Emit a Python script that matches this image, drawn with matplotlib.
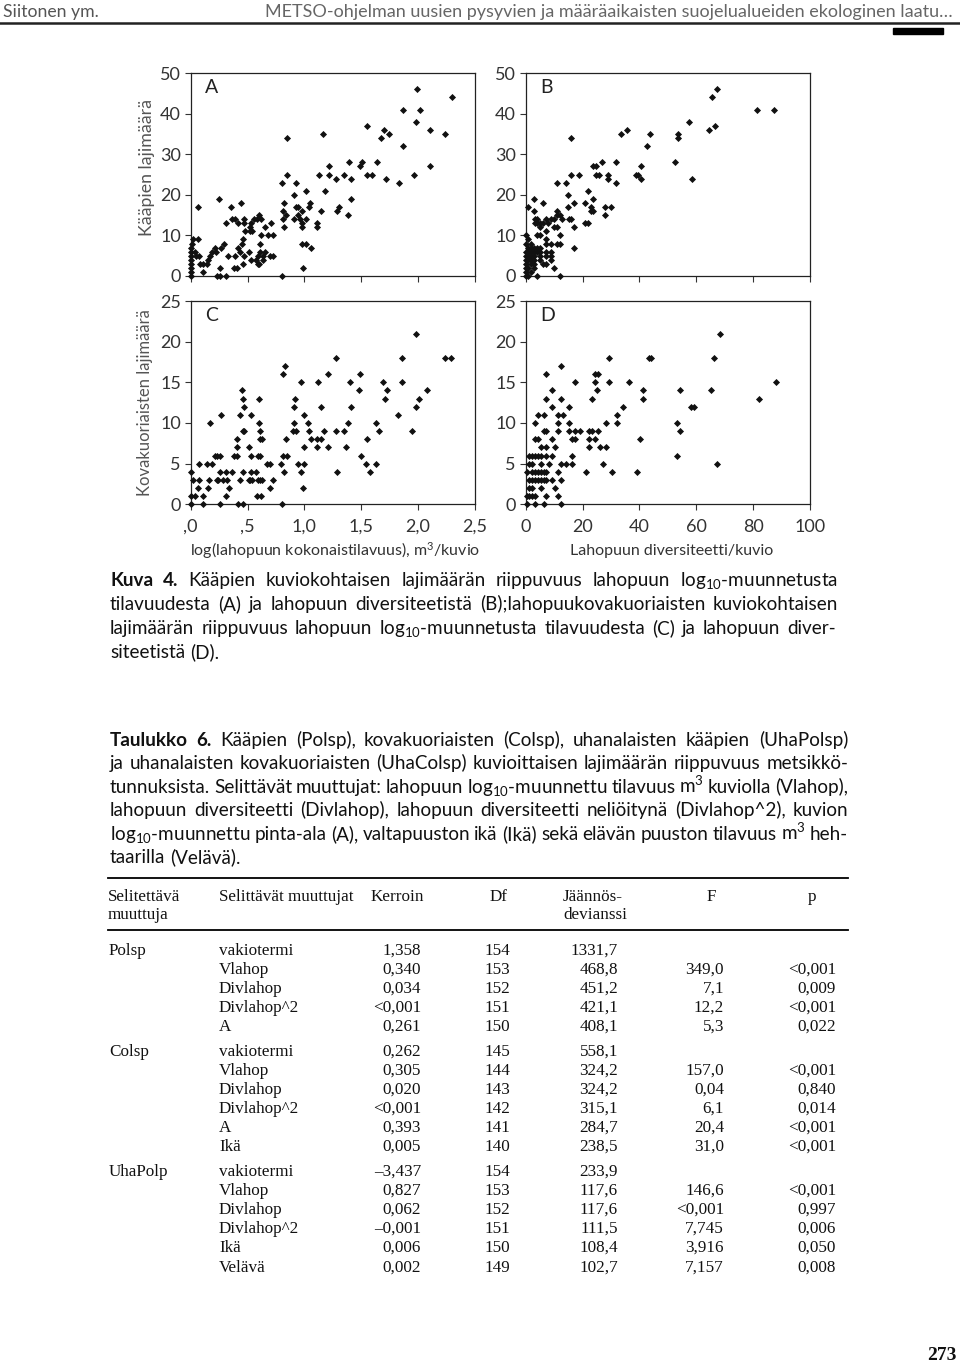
import matplotlib
matplotlib.use('Agg')
import matplotlib.pyplot as plt
from matplotlib.lines import Line2D
from matplotlib.patches import Rectangle

plt.rcParams['mathtext.fontset'] = 'custom'
plt.rcParams['mathtext.rm'] = 'Lato'
plt.rcParams['mathtext.it'] = 'Lato:italic'
plt.rcParams['mathtext.bf'] = 'Lato:bold'

# ---------------- data ----------------
# Panel A: log10 dead wood volume vs polypore species
A_x = [1.99, 2.30, 1.87, 2.02, 1.98, 1.55, 1.70, 1.74, 1.67, 2.10, 2.24, 1.16, 0.85, 1.87, 1.51, 1.49,
       1.64, 1.39, 1.22, 2.10, 1.13, 1.22, 1.35, 1.55, 1.59, 1.96, 0.85, 1.28, 1.41, 1.72, 1.83, 0.80,
       0.93, 1.18, 1.01, 0.91, 1.41, 0.25, 0.82, 1.05, 1.04, 0.93, 0.94, 1.30, 0.35, 0.06, 0.44, 0.81,
       1.15, 1.29, 0.98, 0.84, 0.94, 1.38, 0.91, 0.96, 0.81, 1.01, 0.36, 0.39, 0.47, 0.56, 0.58, 0.60,
       0.62, 0.42, 0.31, 0.47, 0.53, 0.71, 0.98, 1.11, 1.11, 0.82, 0.65, 0.98, 0.52, 0.48, 0.52, 0.54,
       0.68, 0.72, 0.62, 0.46, 0.02, 0.06, 0.29, 0.61, 0.45, 0.98, 1.01, 0.27, 0.21, 0.42, 1.06, 0.04,
       0.05, 0.19, 0.22, 0.43, 0.51, 0.61, 0.65, 0.17, 0.33, 0.39, 0.47, 0.59, 0.64, 0.70, 0.72, 0.07,
       0.15, 0.53, 0.57, 0.64, 0.08, 0.11, 0.14, 0.46, 0.59, 0.60, 0.26, 0.38, 0.41, 0.99, 0.11, 0.00,
       0.00, 0.00, 0.00, 0.00, 0.00, 0.00, 0.00, 0.01, 0.23, 0.26, 0.31, 0.80]
A_y = [46, 44, 41, 41, 38, 37, 36, 35, 34, 36, 35, 35, 34, 32, 28, 27,
       28, 28, 27, 27, 25, 25, 25, 25, 25, 25, 25, 24, 24, 24, 23, 23,
       23, 21, 21, 20, 19, 19, 18, 18, 17, 17, 17, 17, 17, 17, 18, 16,
       16, 16, 16, 15, 15, 15, 14, 14, 14, 14, 14, 14, 14, 14, 14, 15,
       14, 13, 13, 13, 13, 13, 13, 13, 12, 12, 12, 12, 12, 11, 11, 11,
       10, 10, 10, 9, 9, 9, 8, 8, 8, 8, 8, 7, 7, 7, 7, 6,
       5, 6, 6, 6, 6, 6, 6, 5, 5, 5, 5, 5, 5, 5, 5, 5,
       4, 4, 4, 4, 3, 3, 3, 3, 3, 3, 2, 2, 2, 2, 1, 7,
       6, 5, 4, 3, 2, 1, 0, 8, 0, 0, 0, 0]

# Panel B: dead wood diversity vs polypore species
B_x = [67.4, 65.5, 81.5, 87.3, 57.4, 64.5, 66.5, 35.8, 33.6, 43.6, 53.6, 53.6, 15.9, 42.7, 26.8, 31.7,
       52.5, 23.8, 24.7, 40.7, 15.9, 18.9, 24.7, 25.9, 28.8, 38.7, 39.6, 28.8, 40.7, 58.6, 10.9, 14.0,
       31.7, 21.9, 14.9, 23.8, 3.0, 6.1, 17.0, 20.9, 14.9, 0.9, 22.9, 27.8, 29.9, 23.1, 23.8, 3.0,
       10.9, 10.9, 12.0, 27.8, 12.9, 3.2, 4.0, 7.0, 8.9, 10.0, 15.1, 15.9, 3.2, 4.0, 5.0, 6.2,
       7.7, 20.9, 21.8, 5.2, 7.0, 9.8, 10.9, 17.0, 4.0, 5.0, 12.0, 0.0, 7.0, 0.9, 7.0, 8.9,
       10.9, 12.0, 2.0, 0.0, 16.9, 0.9, 2.0, 3.0, 4.0, 5.0, 0.0, 0.9, 2.0, 3.0, 4.0, 5.0,
       7.0, 8.9, 0.0, 0.9, 2.0, 3.0, 5.0, 7.0, 8.9, 0.0, 0.9, 2.0, 3.0, 5.0, 8.9, 0.0,
       2.0, 3.0, 6.0, 7.0, 0.0, 0.9, 3.0, 10.0, 0.0, 2.0, 0.0, 0.9, 4.0, 12.0]
B_y = [46, 44, 41, 41, 38, 36, 37, 36, 35, 35, 35, 34, 34, 32, 28, 28,
       28, 27, 27, 27, 25, 25, 25, 25, 25, 25, 25, 24, 24, 24, 23, 23,
       23, 21, 20, 19, 19, 18, 18, 18, 17, 17, 17, 17, 17, 16, 16, 16,
       16, 15, 15, 15, 14, 14, 14, 14, 14, 14, 14, 14, 13, 13, 13, 13,
       13, 13, 13, 12, 11, 12, 12, 12, 10, 10, 10, 10, 9, 9, 8, 8,
       8, 8, 8, 8, 7, 7, 7, 7, 7, 7, 6, 6, 6, 6, 6, 6,
       6, 6, 5, 5, 5, 5, 5, 5, 5, 4, 4, 4, 4, 4, 4, 3,
       3, 3, 3, 3, 2, 2, 2, 2, 1, 1, 0, 0, 0, 0]

# Panel C: log10 dead wood volume vs beetle species
C_x = [1.98, 1.28, 1.86, 2.24, 2.29, 0.83, 0.81, 1.21, 1.49, 0.97, 1.12, 1.40, 1.69, 1.86, 0.45, 1.48,
       1.73, 2.08, 0.46, 0.60, 0.92, 1.71, 2.01, 0.47, 0.91, 1.15, 1.41, 1.98, 0.27, 0.43, 0.53, 1.00,
       1.82, 0.17, 0.60, 0.91, 1.03, 1.38, 1.63, 0.46, 0.47, 0.61, 0.90, 0.93, 1.04, 1.17, 1.28, 1.35,
       1.66, 1.95, 0.41, 0.61, 0.63, 0.84, 1.06, 1.11, 1.15, 1.55, 0.41, 0.51, 1.00, 1.11, 1.21, 1.37,
       0.21, 0.23, 0.26, 0.38, 0.41, 0.53, 0.59, 0.61, 0.81, 0.85, 1.50, 0.07, 0.14, 0.19, 0.67, 0.70,
       0.79, 0.94, 1.00, 1.54, 1.63, 0.00, 0.26, 0.31, 0.36, 0.46, 0.53, 0.57, 0.82, 0.97, 1.29, 1.58,
       0.02, 0.07, 0.16, 0.23, 0.24, 0.28, 0.32, 0.43, 0.51, 0.52, 0.54, 0.59, 0.61, 0.63, 0.72, 0.06,
       0.15, 0.34, 0.70, 0.99, 0.00, 0.04, 0.11, 0.31, 0.58, 0.62, 0.00, 0.11, 0.26, 0.42, 0.46, 0.80]
C_y = [21, 18, 18, 18, 18, 17, 16, 16, 16, 15, 15, 15, 15, 15, 14, 14,
       14, 14, 13, 13, 13, 13, 13, 12, 12, 12, 12, 12, 11, 11, 11, 11,
       11, 10, 10, 10, 10, 10, 10, 9, 9, 9, 9, 9, 9, 9, 9, 9,
       9, 9, 8, 8, 8, 8, 8, 8, 8, 8, 7, 7, 7, 7, 7, 7,
       6, 6, 6, 6, 6, 6, 6, 6, 6, 6, 6, 5, 5, 5, 5, 5,
       5, 5, 5, 5, 5, 4, 4, 4, 4, 4, 4, 4, 4, 4, 4, 4,
       3, 3, 3, 3, 3, 3, 3, 3, 3, 3, 3, 3, 3, 3, 3, 2,
       2, 2, 2, 2, 1, 1, 1, 1, 1, 1, 0, 0, 0, 0, 0, 0]

# Panel D: dead wood diversity vs beetle species
D_x = [68.2, 29.3, 43.3, 44.2, 66.1, 12.3, 7.3, 24.3, 25.3, 17.4, 24.3, 29.3, 36.2, 88.2, 9.3, 25.2,
       41.3, 54.2, 65.2, 7.3, 12.3, 23.3, 41.3, 82.2, 9.3, 15.2, 34.2, 58.3, 59.2, 4.3, 6.3, 11.3,
       13.2, 32.2, 3.3, 11.3, 15.2, 28.3, 32.2, 53.2, 6.3, 7.3, 11.3, 15.2, 17.4, 19.2, 22.3, 23.3,
       25.3, 54.2, 3.3, 4.3, 9.3, 16.2, 17.4, 22.3, 24.3, 40.2, 5.3, 7.3, 10.3, 22.3, 26.3, 28.3,
       1.3, 2.3, 3.3, 4.3, 5.3, 7.3, 9.3, 16.3, 53.2, 1.3, 2.3, 5.3, 8.3, 12.3, 14.3, 16.3,
       27.3, 67.2, 0.3, 2.3, 3.3, 4.3, 5.3, 6.3, 7.3, 11.3, 21.2, 30.2, 39.3, 1.3, 2.3, 3.3,
       4.3, 5.3, 6.3, 7.3, 9.3, 12.3, 1.3, 2.3, 5.3, 10.3, 0.3, 1.3, 2.3, 3.3, 7.3, 11.3,
       0.3, 3.3, 6.3, 12.3]
D_y = [21, 18, 18, 18, 18, 17, 16, 16, 16, 15, 15, 15, 15, 15, 14, 14,
       14, 14, 14, 13, 13, 13, 13, 13, 12, 12, 12, 12, 12, 11, 11, 11,
       11, 11, 10, 10, 10, 10, 10, 10, 9, 9, 9, 9, 9, 9, 9, 9,
       9, 9, 8, 8, 8, 8, 8, 8, 8, 8, 7, 7, 7, 7, 7, 7,
       6, 6, 6, 6, 6, 6, 6, 6, 6, 5, 5, 5, 5, 5, 5, 5,
       5, 5, 4, 4, 4, 4, 4, 4, 4, 4, 4, 4, 4, 3, 3, 3,
       3, 3, 3, 3, 3, 3, 2, 2, 2, 2, 1, 1, 1, 1, 1, 1,
       0, 0, 0, 0]

yticks_top = [0, 10, 20, 30, 40, 50]
yticks_bottom = [0, 5, 10, 15, 20, 25]
xticks_log = [0.0, 0.5, 1.0, 1.5, 2.0, 2.5]
xticklabels_log = [',0', ',5', '1,0', '1,5', '2,0', '2,5']
xticks_div = [0, 20, 40, 60, 80, 100]
xticklabels_div = ['0', '20', '40', '60', '80', '100']

# table
tab_response = ['Polsp', '', '', '', '',
                'Colsp', '', '', '', '', '',
                'UhaPolp', '', '', '', '', '']
tab_vars = ['vakiotermi', 'Vlahop', 'Divlahop', 'Divlahop^2', 'A',
            'vakiotermi', 'Vlahop', 'Divlahop', 'Divlahop^2', 'A', 'Ikä',
            'vakiotermi', 'Vlahop', 'Divlahop', 'Divlahop^2', 'Ikä', 'Velävä']
tab_coef = ['1,358', '0,340', '0,034', '<0,001', '0,261',
            '0,262', '0,305', '0,020', '<0,001', '0,393', '0,005',
            '\u20133,437', '0,827', '0,062', '\u20130,001', '0,006', '0,002']
tab_df = ['154', '153', '152', '151', '150',
          '145', '144', '143', '142', '141', '140',
          '154', '153', '152', '151', '150', '149']
tab_dev = ['1331,7', '468,8', '451,2', '421,1', '408,1',
           '558,1', '324,2', '324,2', '315,1', '284,7', '238,5',
           '233,9', '117,6', '117,6', '111,5', '108,4', '102,7']
tab_F = ['', '349,0', '7,1', '12,2', '5,3',
         '', '157,0', '0,04', '6,1', '20,4', '31,0',
         '', '146,6', '<0,001', '7,745', '3,916', '7,157']
tab_p = ['', '<0,001', '0,009', '<0,001', '0,022',
         '', '<0,001', '0,840', '0,014', '<0,001', '<0,001',
         '', '<0,001', '0,997', '0,006', '0,050', '0,008']
tab_groups = [5, 6, 6]

# ---------------- figure ----------------
W, H = 960, 1365
fig = plt.figure(figsize=(W / 100, H / 100), dpi=100)
fig.patch.set_facecolor('white')
renderer = fig.canvas.get_renderer()
SANS = ['Lato', 'DejaVu Sans']
SERIF = ['Liberation Serif', 'DejaVu Serif']
LOG10 = 'log$_{\\mathrm{10}}$'
M3 = 'm$^{\\mathrm{3}}$'


def fx(x):
    return x / W


def fy(y):
    return 1 - y / H


def T(x, y, s, **kw):
    kw.setdefault('va', 'center')
    return fig.text(fx(x), fy(y), s, **kw)


def hline(x0, x1, y, lw=1.0, color='black'):
    fig.add_artist(Line2D([fx(x0), fx(x1)], [fy(y), fy(y)], lw=lw, color=color,
                          transform=fig.transFigure))


def fit_text(x0, x1, y, s, size, **kw):
    t = T(x0, y, s, size=size, ha='left', **kw)
    w = t.get_window_extent(renderer).width
    t.set_size(size * (x1 - x0) / w)
    return t


def justify(words, x0, x1, yb, size, full=True, color='#111111'):
    arts, widths = [], []
    for w in words:
        if isinstance(w, tuple):
            txt, wt = w
        else:
            txt, wt = w, 'normal'
        t = fig.text(0, fy(yb), txt, family=SANS, size=size, weight=wt,
                     va='baseline', ha='left', color=color)
        arts.append(t)
        widths.append(t.get_window_extent(renderer).width)
    if full and len(words) > 1:
        gap = (x1 - x0 - sum(widths)) / (len(words) - 1)
    else:
        gap = size * 100 / 72 * 0.26
    x = x0
    for t, w in zip(arts, widths):
        t.set_x(fx(x))
        x += w + gap


# ---- header ----
fit_text(3, 98, 12, 'Siitonen ym.', 13, family=SANS, color='#555555')
fit_text(265, 951, 12, 'METSO-ohjelman uusien pysyvien ja määräaikaisten suojelualueiden ekologinen laatu\u2026',
         13, family=SANS, color='#666666')
hline(0, 960, 22.5, lw=1.8, color='#222222')
fig.add_artist(Rectangle((fx(893), fy(34)), (943 - 893) / W, 6 / H, color='black',
                         transform=fig.transFigure))


# ---- panels ----
def px_axes(x0, y0, x1, y1):
    return fig.add_axes([fx(x0), fy(y1), (x1 - x0) / W, (y1 - y0) / H])


def style(ax, xlim, ylim, xt, yt, xtl=None, letter=''):
    ax.set_xlim(*xlim)
    ax.set_ylim(*ylim)
    ax.set_xticks(xt)
    ax.set_yticks(yt)
    ax.set_yticklabels([str(v) for v in yt], family=SANS, size=13, color='#333333')
    if xtl is None:
        ax.set_xticklabels([])
    else:
        ax.set_xticklabels(xtl, family=SANS, size=13, color='#333333')
    ax.tick_params(direction='out', length=4.5, width=0.8, color='#333333', pad=2.5)
    ax.tick_params(axis='x', pad=6)
    for s in ax.spines.values():
        s.set_linewidth(0.9)
        s.set_color('#222222')
    ax.text(0.05, 0.93, letter, transform=ax.transAxes, family=SANS, size=14,
            color='#222222', va='center', ha='left')


def scat(ax, x, y):
    ax.scatter(x, y, marker='D', s=13, color='#111111', linewidths=0, clip_on=False, zorder=3)


axA = px_axes(190.7, 73, 475, 276)
scat(axA, A_x, A_y)
style(axA, (0, 2.5), (0, 50), xticks_log, yticks_top, None, 'A')

axB = px_axes(525.7, 73, 810, 276)
scat(axB, B_x, B_y)
style(axB, (0, 100), (0, 50), xticks_div, yticks_top, None, 'B')

axC = px_axes(190.7, 301, 475, 504.3)
scat(axC, C_x, C_y)
style(axC, (0, 2.5), (0, 25), xticks_log, yticks_bottom, xticklabels_log, 'C')

axD = px_axes(525.7, 301, 810, 504.3)
scat(axD, D_x, D_y)
style(axD, (0, 100), (0, 25), xticks_div, yticks_bottom, xticklabels_div, 'D')

T(147, 167, 'Kääpien lajimäärä', family=SANS, size=12.8, color='#555555', rotation=90,
  ha='center')
T(145, 403, 'Kovakuoriaisten lajimäärä', family=SANS, size=12, color='#555555',
  rotation=90, ha='center')
T(335, 551, 'log(lahopuun kokonaistilavuus), ' + M3 + '/kuvio', family=SANS, size=11.5,
  color='#333333', ha='center')
T(672, 551, 'Lahopuun diversiteetti/kuvio', family=SANS, size=11.5, color='#333333',
  ha='center')

# ---- caption ----
CS = 13.6
justify([('Kuva', 'bold'), ('4.', 'bold'), 'Kääpien', 'kuviokohtaisen', 'lajimäärän',
         'riippuvuus', 'lahopuun', LOG10 + '-muunnetusta'], 110, 838, 586, CS)
justify(['tilavuudesta', '(A)', 'ja', 'lahopuun', 'diversiteetistä', '(B);lahopuukovakuoriaisten',
         'kuviokohtaisen'], 110, 838, 610, CS)
justify(['lajimäärän', 'riippuvuus', 'lahopuun', LOG10 + '-muunnetusta', 'tilavuudesta',
         '(C)', 'ja', 'lahopuun', 'diver-'], 110, 836, 634, CS)
justify(['siteetistä', '(D).'], 110, 836, 658, CS, full=False)

# ---- table caption ----
tl = [
    ([('Taulukko', 'bold'), ('6.', 'bold'), 'Kääpien', '(Polsp),', 'kovakuoriaisten', '(Colsp),',
      'uhanalaisten', 'kääpien', '(UhaPolsp)'], True),
    (['ja', 'uhanalaisten', 'kovakuoriaisten', '(UhaColsp)', 'kuvioittaisen', 'lajimäärän',
      'riippuvuus', 'metsikkö-'], True),
    (['tunnuksista.', 'Selittävät', 'muuttujat:', 'lahopuun', LOG10 + '-muunnettu',
      'tilavuus', M3, 'kuviolla', '(Vlahop),'], True),
    (['lahopuun', 'diversiteetti', '(Divlahop),', 'lahopuun', 'diversiteetti', 'neliöitynä',
      '(Divlahop^2),', 'kuvion'], True),
    ([LOG10 + '-muunnettu', 'pinta-ala', '(A),', 'valtapuuston', 'ikä', '(Ikä)', 'sekä',
      'elävän', 'puuston', 'tilavuus', M3, 'heh-'], True),
    (['taarilla', '(Velävä).'], False),
]
yb = 746
for words, full in tl:
    justify(words, 110, 848, round(yb), CS, full=full)
    yb += 23.4

# ---- table ----
TS = 12.3
hline(108, 848, 878, lw=1.3)
hline(108, 848, 930, lw=1.3)
for (x, y, s, ha) in [(108, 897, 'Selitettävä', 'left'), (108, 915, 'muuttuja', 'left'),
                      (219, 897, 'Selittävät muuttujat', 'left'), (424, 897, 'Kerroin', 'right'),
                      (508, 897, 'Df', 'right'), (563, 897, 'Jäännös-', 'left'),
                      (563, 915, 'devianssi', 'left'), (711, 897, 'F', 'center'),
                      (812, 897, 'p', 'center')]:
    T(x, y, s, family=SERIF, size=TS, ha=ha, color='#111111')

row_y = []
y = 951.0
for g in tab_groups:
    for i in range(g):
        row_y.append(round(y))
        y += 19.1
    y += 5.5

for i, yy in enumerate(row_y):
    T(109, yy, tab_response[i], family=SERIF, size=TS, ha='left', color='#111111')
    T(219, yy, tab_vars[i], family=SERIF, size=TS, ha='left', color='#111111')
    T(421, yy, tab_coef[i], family=SERIF, size=TS, ha='right', color='#111111')
    T(510, yy, tab_df[i], family=SERIF, size=TS, ha='right', color='#111111')
    T(618, yy, tab_dev[i], family=SERIF, size=TS, ha='right', color='#111111')
    T(724, yy, tab_F[i], family=SERIF, size=TS, ha='right', color='#111111')
    T(836, yy, tab_p[i], family=SERIF, size=TS, ha='right', color='#111111')

# page number
T(957, 1355, '273', family=SERIF, size=14, weight='bold', ha='right', color='#111111')

fig.savefig('out.png', dpi=100)
